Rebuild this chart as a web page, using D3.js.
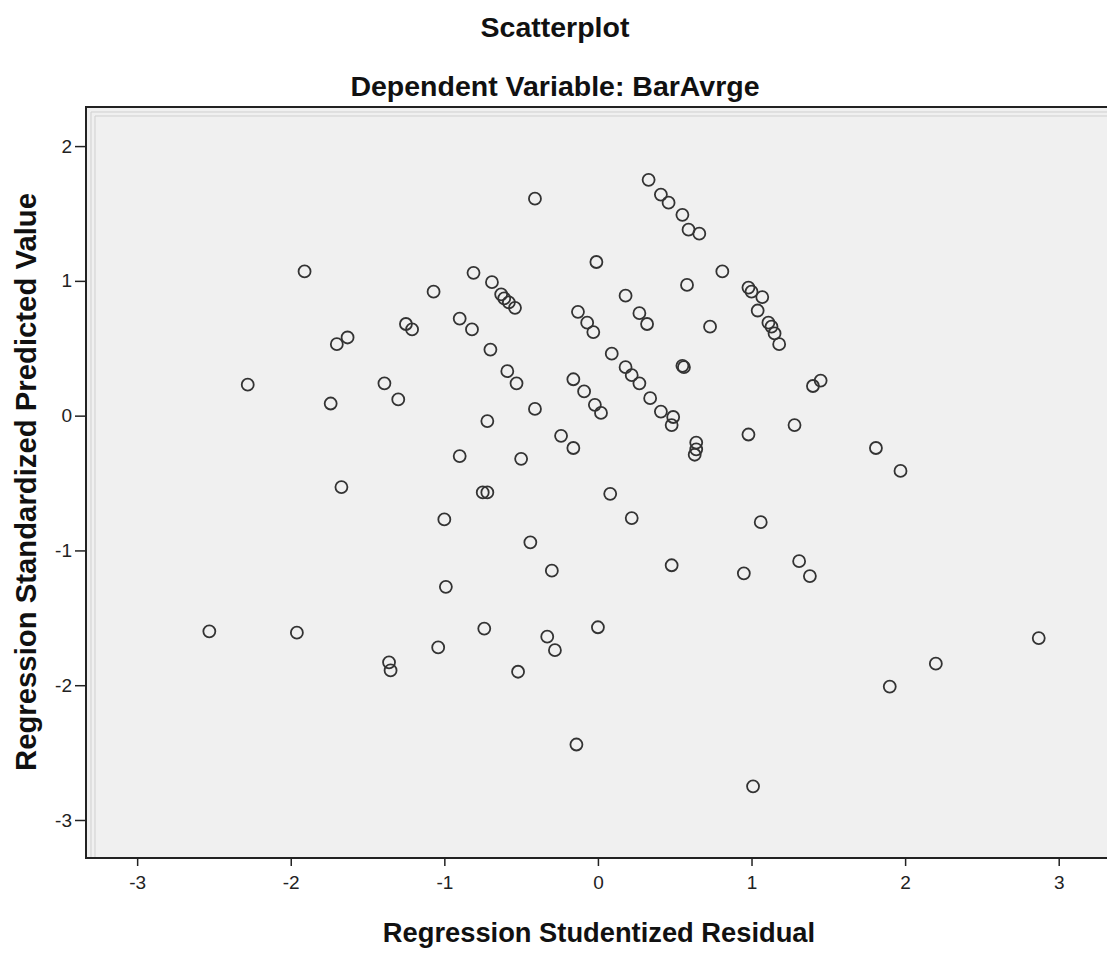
<!DOCTYPE html>
<html>
<head>
<meta charset="utf-8">
<script src="https://cdn.jsdelivr.net/npm/d3@7"></script>
<style>
  body { margin: 0; background: #fff; }
  text { font-family: "Liberation Sans", Arial, sans-serif; fill: #111; }
  .title { font-weight: bold; font-size: 28.5px; }
  .axis-title { font-weight: bold; }
  .tick text { font-size: 19px; fill: #222; }
  .tick line { stroke: #222; stroke-width: 1.5; }
  .point { fill: none; stroke: #333; stroke-width: 1.8; }
</style>
</head>
<body>
<svg></svg>
<script>
const WIDTH = 1107,
  HEIGHT = 953;
const plot = { left: 86, top: 107, right: 1114, bottom: 858 };

// Regression Studentized Residual (x) / Regression Standardized Predicted Value (y)
const residual = [
  0.33, 0.41, 0.46, 0.55, 0.59, 0.66, -0.41, -0.01, 0.81, 0.58,
  0.98, 1.0, 1.07, 1.04, 1.11, 1.13, 1.15, 1.18, 0.18, 0.27,
  0.32, -0.13, -0.07, -0.03, 0.73, 0.09, 0.55, 0.56, 0.18, 0.22,
  0.27, 0.34, 0.41, 0.49, 0.48, -0.59, -0.53, -0.16, -0.09, -0.02,
  0.02, -0.41, -0.24, -0.16, 0.64, 0.64, 0.63, 0.98, 1.28, 1.4,
  1.45, -1.91, -2.28, -1.7, -1.63, -1.74, -1.67, -1.39, -1.3, -1.25,
  -1.21, -1.07, -0.81, -0.69, -0.63, -0.61, -0.58, -0.54, -0.9, -0.82,
  -0.7, -0.72, -0.9, -0.5, -0.75, -0.72, -1.0, -0.44, -0.3, -0.99,
  -2.53, -1.96, -0.74, -0.33, -0.28, -1.04, -1.36, -1.35, -0.52, -0.14,
  0.0, 0.08, 0.22, 0.48, 0.95, 1.06, 1.31, 1.38, 1.81, 1.97,
  2.87, 2.2, 1.9, 1.01
];
const predicted = [
  1.75, 1.64, 1.58, 1.49, 1.38, 1.35, 1.61, 1.14, 1.07, 0.97,
  0.95, 0.92, 0.88, 0.78, 0.69, 0.66, 0.61, 0.53, 0.89, 0.76,
  0.68, 0.77, 0.69, 0.62, 0.66, 0.46, 0.37, 0.36, 0.36, 0.3,
  0.24, 0.13, 0.03, -0.01, -0.07, 0.33, 0.24, 0.27, 0.18, 0.08,
  0.02, 0.05, -0.15, -0.24, -0.2, -0.25, -0.29, -0.14, -0.07, 0.22,
  0.26, 1.07, 0.23, 0.53, 0.58, 0.09, -0.53, 0.24, 0.12, 0.68,
  0.64, 0.92, 1.06, 0.99, 0.9, 0.87, 0.84, 0.8, 0.72, 0.64,
  0.49, -0.04, -0.3, -0.32, -0.57, -0.57, -0.77, -0.94, -1.15, -1.27,
  -1.6, -1.61, -1.58, -1.64, -1.74, -1.72, -1.83, -1.89, -1.9, -2.44,
  -1.57, -0.58, -0.76, -1.11, -1.17, -0.79, -1.08, -1.19, -0.24, -0.41,
  -1.65, -1.84, -2.01, -2.75
];
const xTicks = [-3, -2, -1, 0, 1, 2, 3];
const yTicks = [-3, -2, -1, 0, 1, 2];

const points = residual.map((r, i) => ({ x: r, y: predicted[i] }));

const svg = d3.select("svg").attr("width", WIDTH).attr("height", HEIGHT);

const xScale = d3
  .scaleLinear()
  .domain([-3.333, 3.36])
  .range([plot.left, plot.right]);
const yScale = d3
  .scaleLinear()
  .domain([-3.282, 2.29])
  .range([plot.bottom, plot.top]);

// plot background
svg
  .append("rect")
  .attr("x", plot.left)
  .attr("y", plot.top)
  .attr("width", plot.right - plot.left)
  .attr("height", plot.bottom - plot.top)
  .style("fill", "#f0f0f0");

// light inner border lines (left and top)
const inner = svg.append("g").attr("class", "inner-border");
[5, 9].forEach(off => {
  inner
    .append("line")
    .attr("x1", plot.left + off)
    .attr("x2", plot.left + off)
    .attr("y1", plot.top + off)
    .attr("y2", plot.bottom)
    .style("stroke", "#cfcfcf");
  inner
    .append("line")
    .attr("x1", plot.left + off)
    .attr("x2", plot.right)
    .attr("y1", plot.top + off)
    .attr("y2", plot.top + off)
    .style("stroke", "#cfcfcf");
});

// axes
const xAxis = svg
  .append("g")
  .attr("transform", `translate(0,${plot.bottom})`)
  .call(
    d3.axisBottom(xScale).tickValues(xTicks).tickSize(8).tickPadding(10).tickFormat(d3.format("d"))
  );
xAxis.select(".domain").remove();

const yAxis = svg
  .append("g")
  .attr("transform", `translate(${plot.left},0)`)
  .call(
    d3.axisLeft(yScale).tickValues(yTicks).tickSize(11).tickPadding(3).tickFormat(d3.format("d"))
  );
yAxis.select(".domain").remove();
svg.selectAll(".tick text").text(d => (d < 0 ? "-" + Math.abs(d) : d));

// frame
svg
  .append("path")
  .attr("d", `M${plot.right},${plot.top}H${plot.left}V${plot.bottom}H${plot.right}`)
  .style("fill", "none")
  .style("stroke", "#222")
  .style("stroke-width", 2);

// points
svg
  .append("g")
  .attr("class", "points")
  .selectAll("circle")
  .data(points)
  .enter()
  .append("circle")
  .attr("class", "point")
  .attr("cx", d => xScale(d.x))
  .attr("cy", d => yScale(d.y))
  .attr("r", 6);

// titles
svg
  .append("text")
  .attr("class", "title")
  .attr("x", 555)
  .attr("y", 37)
  .attr("text-anchor", "middle")
  .text("Scatterplot");

svg
  .append("text")
  .attr("class", "title")
  .attr("x", 555)
  .attr("y", 96)
  .attr("text-anchor", "middle")
  .text("Dependent Variable: BarAvrge");

svg
  .append("text")
  .attr("class", "axis-title")
  .attr("x", 599)
  .attr("y", 942)
  .attr("text-anchor", "middle")
  .style("font-size", "27.3px")
  .text("Regression Studentized Residual");

svg
  .append("text")
  .attr("class", "axis-title")
  .attr("transform", "translate(36,482) rotate(-90)")
  .attr("text-anchor", "middle")
  .style("font-size", "29.3px")
  .text("Regression Standardized Predicted Value");
</script>
</body>
</html>
